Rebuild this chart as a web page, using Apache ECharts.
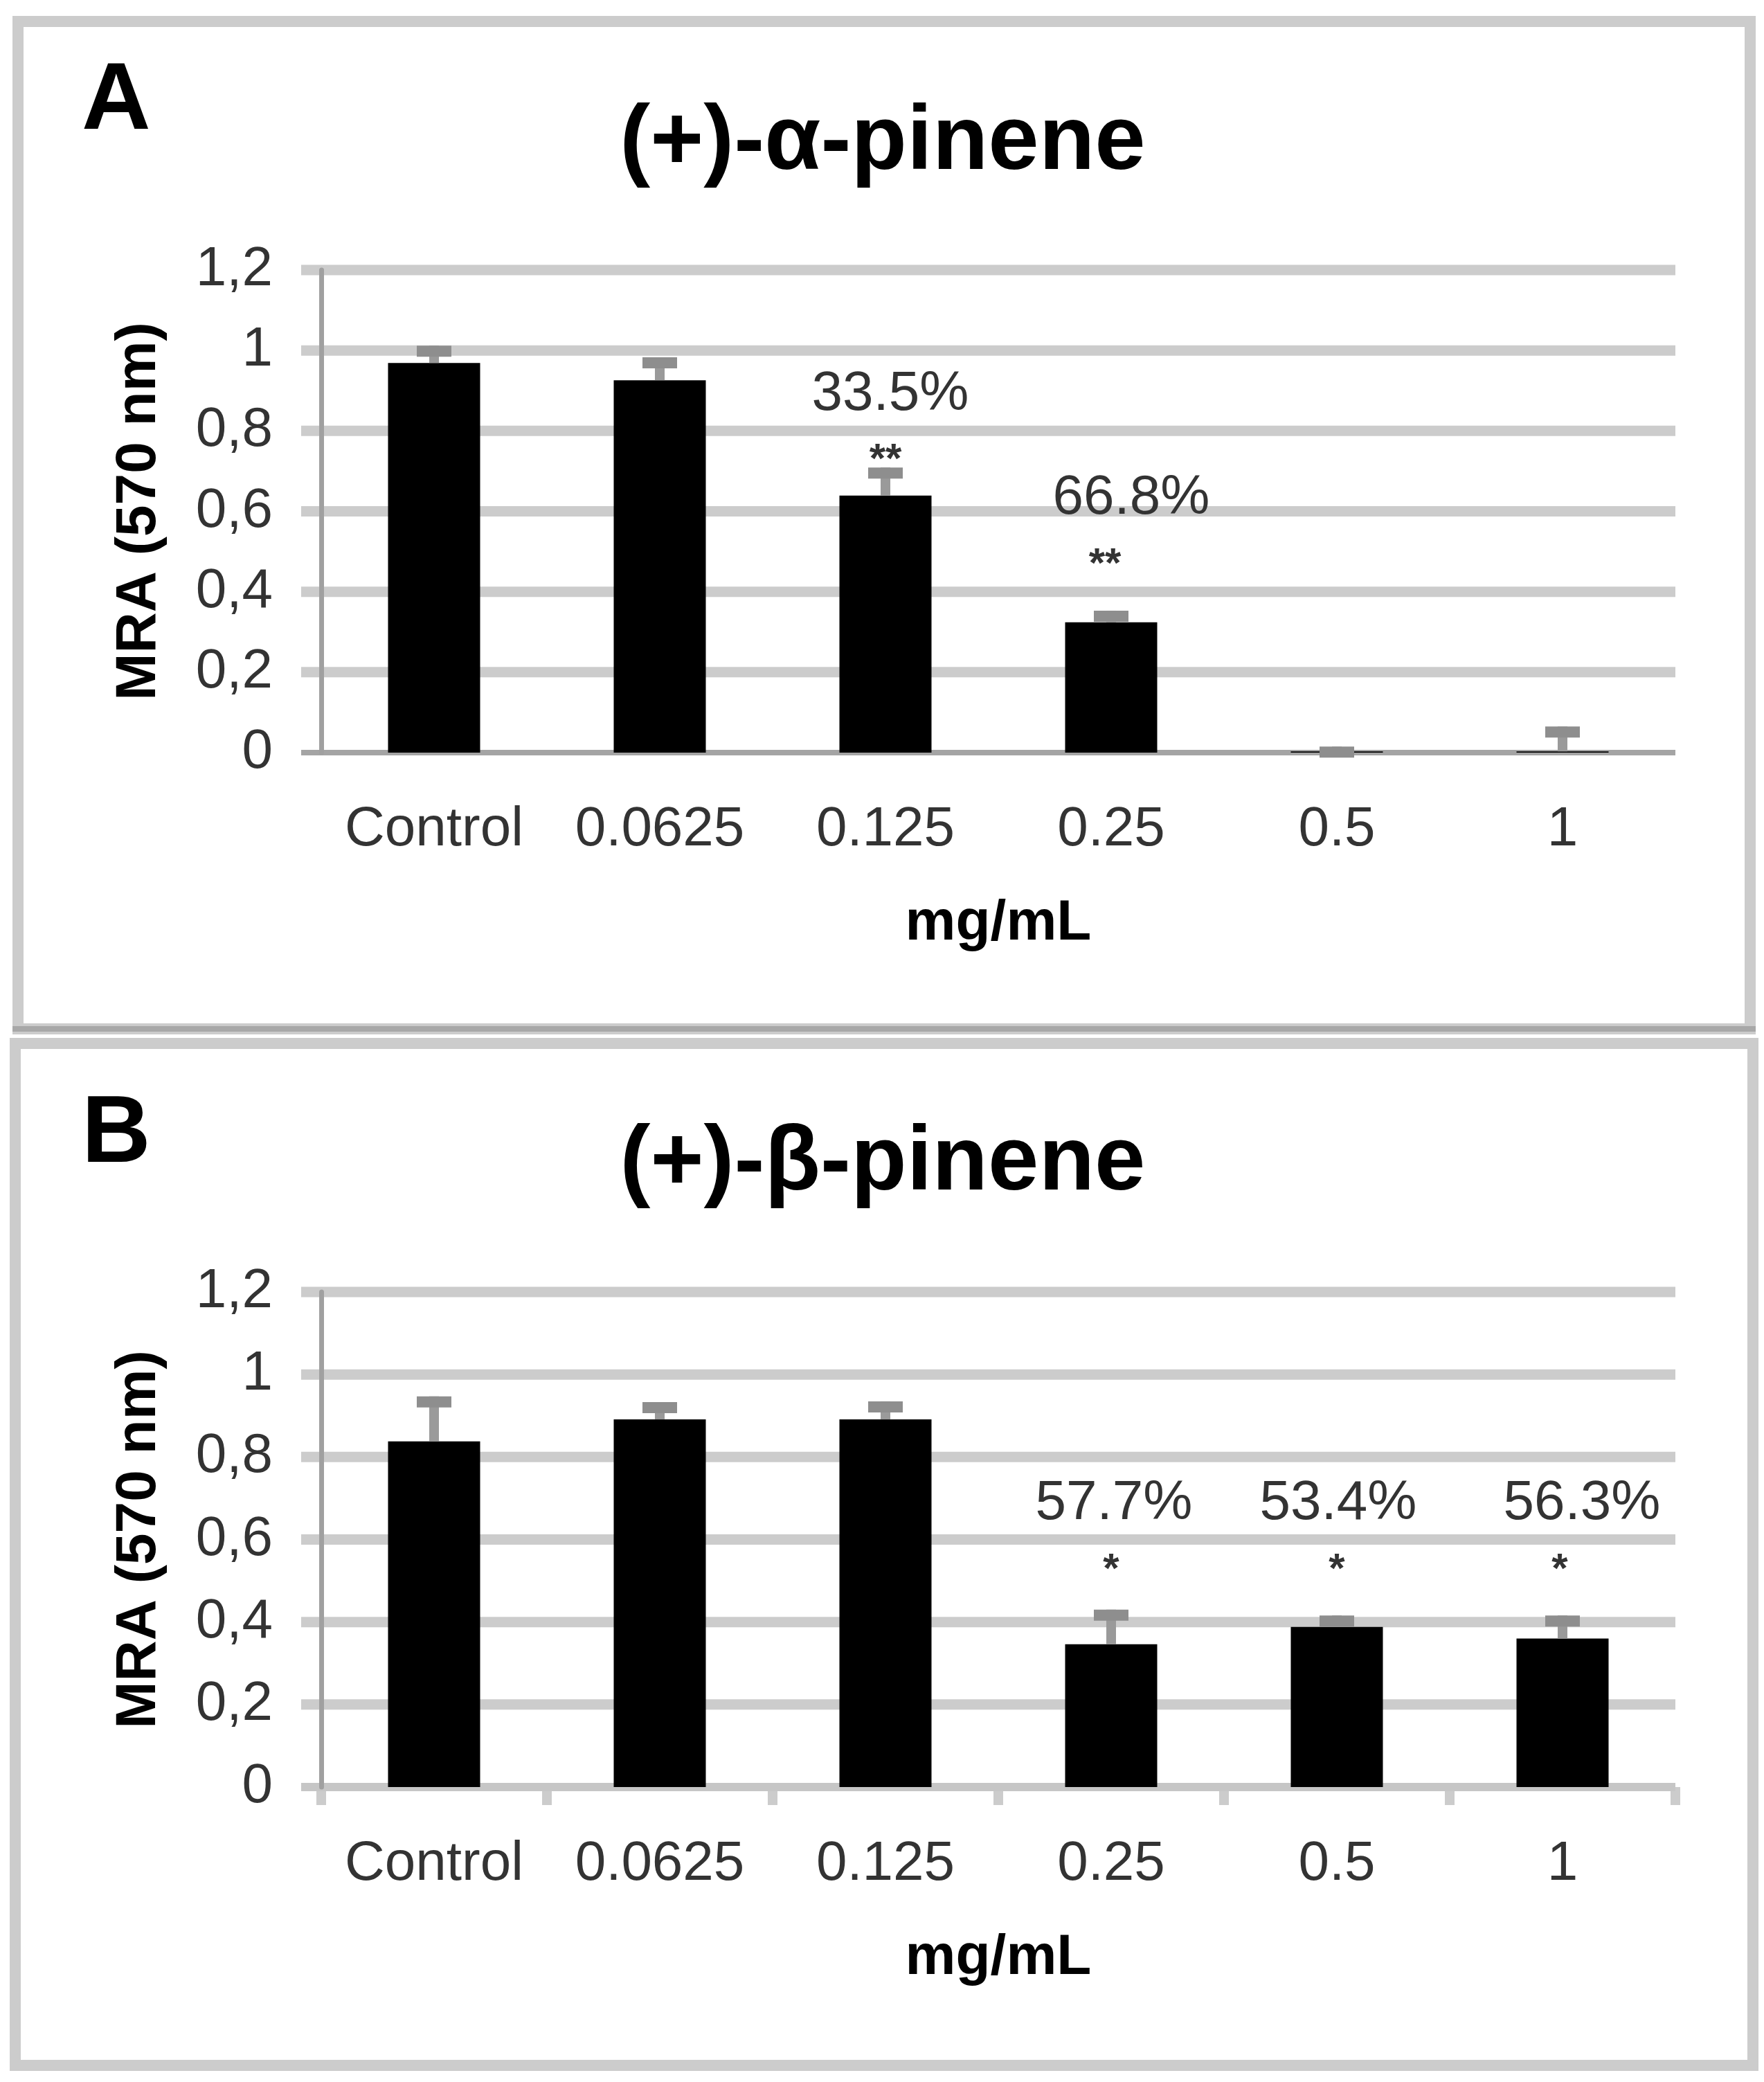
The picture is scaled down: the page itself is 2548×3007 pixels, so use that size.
<!DOCTYPE html>
<html>
<head>
<meta charset="utf-8">
<script src="https://cdn.jsdelivr.net/npm/echarts@6/dist/echarts.min.js"></script>
<style>
html,body{margin:0;padding:0;background:#fff;}
#c{width:2548px;height:3007px;}
</style>
</head>
<body>
<div id="c"></div>
<script>
// ---- data ----
const categories = ['Control', '0.0625', '0.125', '0.25', '0.5', '1'];
const yTicks = [0, 0.2, 0.4, 0.6, 0.8, 1.0, 1.2];

const alphaMean = [0.969, 0.926, 0.639, 0.324, 0.003, 0.003];
const alphaErr  = [0.043, 0.057, 0.070, 0.029, 0.012, 0.062];
const alphaPct      = ['', '', '33.5%', '66.8%', '', ''];
const alphaPctY     = [null, null, 0.89, 0.632, null, null];
const alphaStars    = ['', '', '**', '**', '', ''];
const alphaStarsY   = [null, null, 0.747, 0.486, null, null];

const betaMean = [0.838, 0.891, 0.891, 0.346, 0.388, 0.360];
const betaErr  = [0.109, 0.042, 0.044, 0.084, 0.028, 0.056];
const betaPct      = ['', '', '', '57.7%', '53.4%', '56.3%'];
const betaPctY     = [null, null, null, 0.686, 0.686, 0.686];
const betaStars    = ['', '', '', '*', '*', '*'];
const betaStarsY   = [null, null, null, 0.545, 0.545, 0.545];

// ---- rendering ----
const FONT = 'Liberation Sans, Arial, sans-serif';
const chart = echarts.init(document.getElementById('c'), null, {renderer: 'canvas'});

const panels = [
  {mean: alphaMean, err: alphaErr, pct: alphaPct, pctY: alphaPctY, stars: alphaStars, starsY: alphaStarsY,
   top: 390, height: 697, axisColor: '#a4a4a4', axisW: 8, ticks: false,
   pctNudge: [0, 0, 7, 29, 0, 0], starNudge: [0, 0, 0, -9, 0, 0]},
  {mean: betaMean, err: betaErr, pct: betaPct, pctY: betaPctY, stars: betaStars, starsY: betaStarsY,
   top: 1866, height: 715, axisColor: '#c6c6c6', axisW: 12, ticks: true,
   pctNudge: [0, 0, 0, 4, 2, 28], starNudge: [0, 0, 0, 0, 0, -4]}
];

const grids = [], xAxes = [], yAxes = [], series = [];
panels.forEach((p, k) => {
  grids.push({left: 464, right: 128, top: p.top, height: p.height, outerBoundsMode: 'none'});
  xAxes.push({
    type: 'category', gridIndex: k, data: categories, boundaryGap: true,
    axisLine: {show: false},
    axisTick: {show: p.ticks, length: 26, lineStyle: {color: '#cccccc', width: 14}},
    axisLabel: {color: '#333333', fontSize: 80, fontFamily: FONT, margin: 72, interval: 0},
    name: 'mg/mL', nameLocation: 'middle', nameGap: 206,
    nameTextStyle: {color: '#000', fontSize: 82, fontWeight: 'bold', fontFamily: FONT},
    splitLine: {show: false}
  });
  yAxes.push({
    type: 'value', gridIndex: k, min: 0, max: 1.2, interval: 0.2, z: 3,
    axisLine: {show: true, lineStyle: {color: '#a0a0a0', width: 7}},
    axisTick: {show: false},
    splitLine: {show: false},
    axisLabel: {color: '#333333', fontSize: 80, fontFamily: FONT, margin: 70,
      formatter: v => v === 0 ? '0' : String(+v.toFixed(1)).replace('.', ',')},
    name: 'MRA (570 nm)', nameLocation: 'middle', nameRotate: 90, nameGap: 222,
    nameTextStyle: {color: '#000', fontSize: 82, fontWeight: 'bold', fontFamily: FONT}
  });
  // grid lines (extend slightly left of the y axis, like the original)
  series.push({
    type: 'custom', xAxisIndex: k, yAxisIndex: k, z: 0, silent: true, clip: false,
    data: yTicks.map(v => [0, v]),
    encode: {x: 0, y: 1},
    renderItem: (params, api) => {
      const cs = params.coordSys;
      const v = api.value(1);
      const y = api.coord([0, v])[1];
      const isAxis = v === 0;
      const h = isAxis ? p.axisW : 15;
      return {type: 'rect', shape: {x: cs.x - 29, y: y - h / 2, width: cs.width + 29, height: h},
        style: {fill: isAxis ? p.axisColor : '#cccccc'}, z2: isAxis ? 5 : 0};
    }
  });
  series.push({
    type: 'bar', xAxisIndex: k, yAxisIndex: k, z: 2, data: p.mean, barWidth: '40.8%',
    itemStyle: {color: '#000000'}, silent: true
  });
  series.push({
    type: 'custom', xAxisIndex: k, yAxisIndex: k, z: 3, silent: true, clip: false,
    data: p.mean.map((m, i) => [i, m, m + p.err[i]]),
    encode: {x: 0, y: [1, 2]},
    renderItem: (params, api) => {
      const i = api.value(0);
      const b = api.coord([i, api.value(1)]);
      const t = api.coord([i, api.value(2)]);
      return {type: 'group', children: [
        {type: 'rect', shape: {x: b[0] - 7, y: t[1], width: 14, height: Math.max(0, b[1] - t[1])}, style: {fill: '#9a9a9a'}},
        {type: 'rect', shape: {x: b[0] - 25, y: t[1], width: 50, height: 16}, style: {fill: '#8e8e8e'}}
      ]};
    }
  });
  series.push({
    type: 'custom', xAxisIndex: k, yAxisIndex: k, z: 4, silent: true, clip: false,
    data: categories.map((c, i) => [i, p.pctY[i] == null ? 0 : p.pctY[i], p.starsY[i] == null ? 0 : p.starsY[i]]),
    encode: {x: 0, y: 1},
    renderItem: (params, api) => {
      const i = params.dataIndex;
      const children = [];
      if (p.pct[i]) {
        const c = api.coord([i, api.value(1)]);
        children.push({type: 'text', style: {text: p.pct[i], x: c[0] + p.pctNudge[i], y: c[1],
          align: 'center', verticalAlign: 'middle', fill: '#333333', font: '80px ' + FONT}});
      }
      if (p.stars[i]) {
        const c = api.coord([i, api.value(2)]);
        children.push({type: 'text', style: {text: p.stars[i], x: c[0] + p.starNudge[i], y: c[1] + 12,
          align: 'center', verticalAlign: 'middle', fill: '#333333', font: 'bold 60px ' + FONT}});
      }
      return {type: 'group', children};
    }
  });
});

const graphic = [
  // panel A frame
  {type: 'rect', shape: {x: 26, y: 31, width: 2502, height: 1455}, style: {fill: 'none', stroke: '#cccccc', lineWidth: 16}, z: -10},
  {type: 'rect', shape: {x: 18, y: 1482, width: 2518, height: 8}, style: {fill: '#a8a8a8'}, z: -9},
  // panel B frame
  {type: 'rect', shape: {x: 22, y: 1507, width: 2510, height: 1476}, style: {fill: 'none', stroke: '#cccccc', lineWidth: 16}, z: -10},
  // panel letters
  {type: 'text', style: {text: 'A', x: 118, y: 79, verticalAlign: 'top', fill: '#000', font: 'bold 138px ' + FONT}},
  {type: 'text', style: {text: 'B', x: 118, y: 1571, verticalAlign: 'top', fill: '#000', font: 'bold 138px ' + FONT}},
  // titles
  {type: 'text', style: {text: '(+)-\u03b1-pinene', x: 1275, y: 142, align: 'center', verticalAlign: 'top', fill: '#000', font: 'bold 132px ' + FONT}},
  {type: 'text', style: {text: '(+)-\u03b2-pinene', x: 1275, y: 1616, align: 'center', verticalAlign: 'top', fill: '#000', font: 'bold 132px ' + FONT}}
];

chart.setOption({
  animation: false,
  backgroundColor: '#ffffff',
  grid: grids, xAxis: xAxes, yAxis: yAxes, series, graphic
});
</script>
</body>
</html>
